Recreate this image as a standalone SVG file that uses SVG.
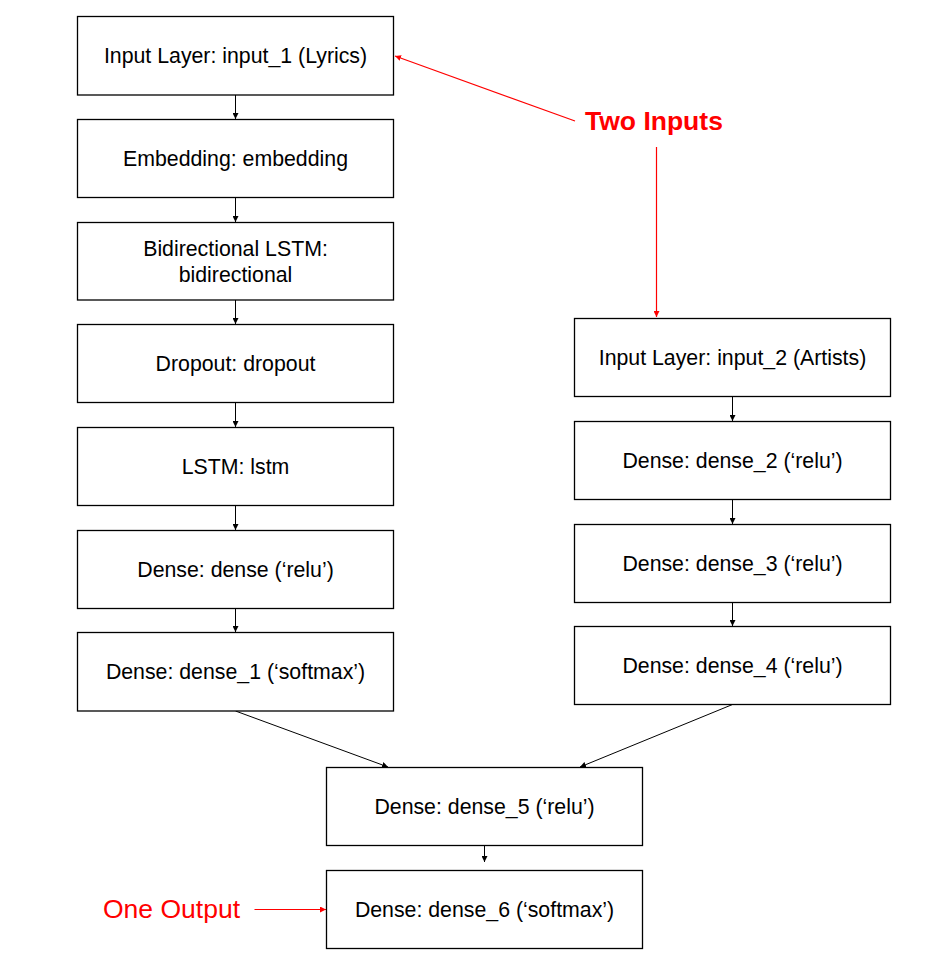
<svg xmlns="http://www.w3.org/2000/svg" width="944" height="977" viewBox="0 0 944 977">
<style>
.box{fill:#fff;stroke:#000;stroke-width:1.3}
.t{font-family:"Liberation Sans",Arial,sans-serif;font-size:21.3px;fill:#000;text-anchor:middle}
.c{stroke:#000;stroke-width:1;fill:none}
.r{stroke:#f00;stroke-width:1.2;fill:none}
.rt{font-family:"Liberation Sans",Arial,sans-serif;font-size:26.5px;fill:#f00}
</style>
<defs>
<marker id="ab" markerUnits="userSpaceOnUse" markerWidth="8" markerHeight="6" refX="6" refY="3" orient="auto"><path d="M0,0 L6,3 L0,6 z" fill="#000"/></marker>
<marker id="ar" markerUnits="userSpaceOnUse" markerWidth="8" markerHeight="6" refX="6" refY="3" orient="auto"><path d="M0,0 L6,3 L0,6 z" fill="#f00"/></marker>
</defs>
<rect width="944" height="977" fill="#fff"/>
<g id="connectors">
<line class="c" x1="235.5" y1="95" x2="235.5" y2="119" marker-end="url(#ab)"/>
<line class="c" x1="235.5" y1="197.5" x2="235.5" y2="222" marker-end="url(#ab)"/>
<line class="c" x1="235.5" y1="300" x2="235.5" y2="324" marker-end="url(#ab)"/>
<line class="c" x1="235.5" y1="402.5" x2="235.5" y2="427" marker-end="url(#ab)"/>
<line class="c" x1="235.5" y1="505.5" x2="235.5" y2="530" marker-end="url(#ab)"/>
<line class="c" x1="235.5" y1="608.5" x2="235.5" y2="632" marker-end="url(#ab)"/>
<line class="c" x1="732.5" y1="396.5" x2="732.5" y2="421" marker-end="url(#ab)"/>
<line class="c" x1="732.5" y1="499.5" x2="732.5" y2="524" marker-end="url(#ab)"/>
<line class="c" x1="732.5" y1="602.5" x2="732.5" y2="626" marker-end="url(#ab)"/>
<line class="c" x1="235.5" y1="711" x2="388" y2="767" marker-end="url(#ab)"/>
<line class="c" x1="732.5" y1="704.5" x2="580" y2="767" marker-end="url(#ab)"/>
<line class="c" x1="484.5" y1="837" x2="484.5" y2="862" marker-end="url(#ab)"/>
<line class="r" x1="575" y1="121" x2="395" y2="56" marker-end="url(#ar)"/>
<line class="r" x1="656.5" y1="147" x2="656.5" y2="317" marker-end="url(#ar)"/>
<line class="r" x1="254.5" y1="909.5" x2="326" y2="909.5" marker-end="url(#ar)"/>
</g>
<g id="input_1"><rect class="box" x="77.5" y="16.5" width="316" height="78.5"/><text class="t" x="235.5" y="63">Input Layer: input_1 (Lyrics)</text></g>
<g id="embedding"><rect class="box" x="77.5" y="119.5" width="316" height="78"/><text class="t" x="235.5" y="166">Embedding: embedding</text></g>
<g id="bidirectional"><rect class="box" x="77.5" y="222.5" width="316" height="77.5"/><text class="t" x="235.5" y="255.7">Bidirectional LSTM:</text><text class="t" x="235.5" y="281.7">bidirectional</text></g>
<g id="dropout"><rect class="box" x="77.5" y="324.5" width="316" height="78"/><text class="t" x="235.5" y="371">Dropout: dropout</text></g>
<g id="lstm"><rect class="box" x="77.5" y="427.5" width="316" height="78"/><text class="t" x="235.5" y="474">LSTM: lstm</text></g>
<g id="dense"><rect class="box" x="77.5" y="530.5" width="316" height="78"/><text class="t" x="235.5" y="577">Dense: dense (‘relu’)</text></g>
<g id="dense_1"><rect class="box" x="77.5" y="632.5" width="316" height="78.5"/><text class="t" x="235.5" y="679">Dense: dense_1 (‘softmax’)</text></g>
<g id="input_2"><rect class="box" x="574.5" y="318.5" width="316" height="78"/><text class="t" x="732.5" y="365">Input Layer: input_2 (Artists)</text></g>
<g id="dense_2"><rect class="box" x="574.5" y="421.5" width="316" height="78"/><text class="t" x="732.5" y="468">Dense: dense_2 (‘relu’)</text></g>
<g id="dense_3"><rect class="box" x="574.5" y="524.5" width="316" height="78"/><text class="t" x="732.5" y="571">Dense: dense_3 (‘relu’)</text></g>
<g id="dense_4"><rect class="box" x="574.5" y="626.5" width="316" height="78"/><text class="t" x="732.5" y="673">Dense: dense_4 (‘relu’)</text></g>
<g id="dense_5"><rect class="box" x="326.5" y="767.5" width="316" height="78"/><text class="t" x="484.5" y="814">Dense: dense_5 (‘relu’)</text></g>
<g id="dense_6"><rect class="box" x="326.5" y="870.5" width="316" height="78"/><text class="t" x="484.5" y="917">Dense: dense_6 (‘softmax’)</text></g>
<g id="two_inputs"><text class="rt" x="585" y="129.5" font-weight="bold">Two Inputs</text></g>
<g id="one_output"><text class="rt" x="103" y="917.5">One Output</text></g>
</svg>
